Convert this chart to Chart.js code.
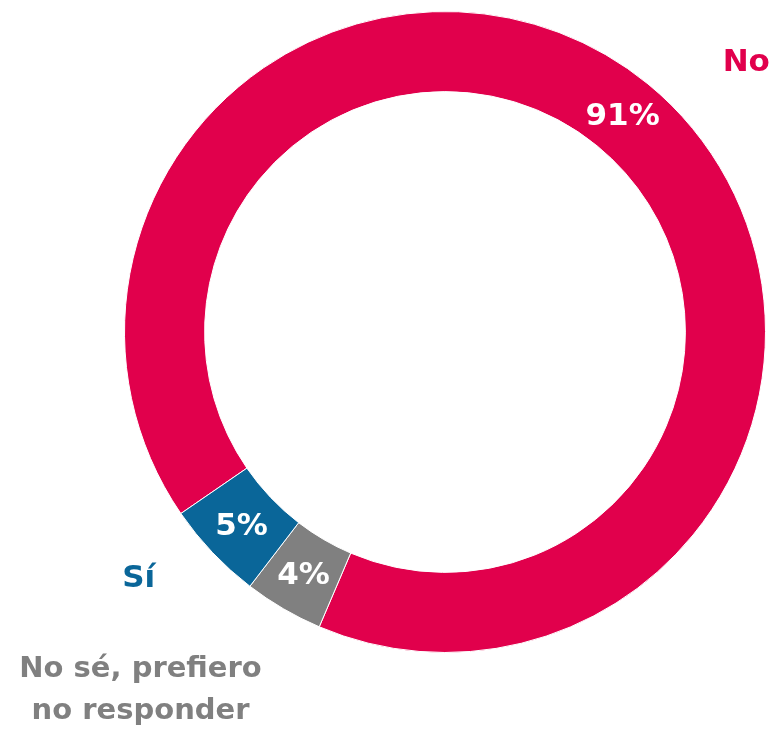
<!DOCTYPE html>
<html>
<head>
<meta charset="utf-8">
<script src="https://cdn.jsdelivr.net/npm/chart.js@4/dist/chart.umd.min.js"></script>
<style>
  html, body { margin: 0; padding: 0; background: #fff; }
  #wrap { width: 777px; height: 729px; }
</style>
</head>
<body>
<div id="wrap"><canvas id="donut"></canvas></div>
<script>
const categories = ["No", "No sé, prefiero no responder", "Sí"];
const values = [91, 4, 5];
const colors = ["#E1004C", "#808080", "#0A6699"];
const percentLabels = ["91%", "4%", "5%"];
// outer label lines
const outerLabels = [["No"], ["No sé, prefiero", "no responder"], ["Sí"]];

const fontFamily = "'DejaVu Sans', sans-serif";

// outer label anchor, relative to centre, in units of outer radius
const outerAnchor = [
  { dx: 0.94, dy: -0.84, size: 31 },
  { dx: -0.95, dy: 1.118, size: 29 },
  { dx: -0.956, dy: 0.77, size: 31 },
];

const labelsPlugin = {
  id: "labels",
  afterDatasetsDraw(chart) {
    const ctx = chart.ctx;
    const arcs = chart.getDatasetMeta(0).data;
    ctx.save();
    ctx.textAlign = "center";
    ctx.textBaseline = "middle";
    arcs.forEach((arc, i) => {
      const pos = arc.tooltipPosition();
      ctx.fillStyle = "#fff";
      ctx.font = "bold 31px " + fontFamily;
      ctx.fillText(percentLabels[i], pos.x, pos.y + 2);

      const R = arc.outerRadius;
      const a = outerAnchor[i];
      const ax = arc.x + a.dx * R;
      const ay = arc.y + a.dy * R;
      ctx.fillStyle = colors[i];
      ctx.font = "bold " + a.size + "px " + fontFamily;
      const lines = outerLabels[i];
      lines.forEach((t, j) => {
        ctx.fillText(t, ax, ay + (j - (lines.length - 1) / 2) * 42);
      });
    });
    ctx.restore();
  },
};

new Chart(document.getElementById("donut"), {
  type: "doughnut",
  data: {
    labels: categories,
    datasets: [
      {
        data: values,
        backgroundColor: colors,
        borderColor: "#fff",
        borderWidth: 1,
      },
    ],
  },
  options: {
    responsive: true,
    maintainAspectRatio: false,
    animation: false,
    cutout: "75%",
    rotation: 235.5,
    layout: { padding: { left: 124, right: 11, top: 11, bottom: 76 } },
    plugins: {
      legend: { display: false },
      tooltip: { enabled: false },
    },
  },
  plugins: [labelsPlugin],
});
</script>
</body>
</html>
